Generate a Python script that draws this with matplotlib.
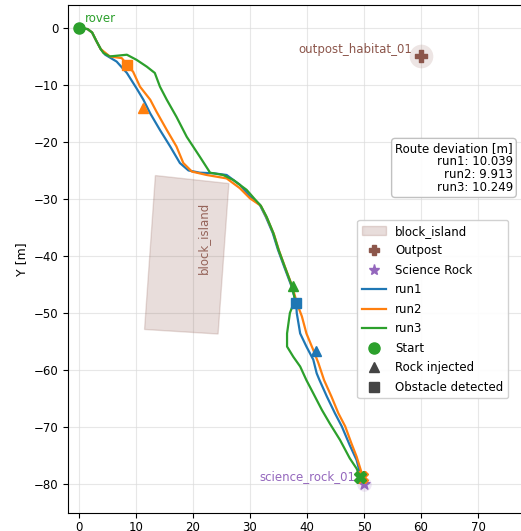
import matplotlib
matplotlib.use("Agg")
import matplotlib.pyplot as plt
from matplotlib.patches import Polygon, Patch
from matplotlib.lines import Line2D

# ---- data ----
run1_x = [0, 1.5, 2.3, 3.0, 3.8, 4.6, 6.6, 8.4, 10.1, 11.3, 12.5, 14.2, 16.0, 17.7, 19.2, 21.2, 23.6, 25.9, 28.2, 30.0,
          31.7, 32.8, 34.0, 34.9, 36.0, 37.2, 38.1, 38.2, 38.8, 39.9, 41.1, 41.7, 42.2, 43.5, 44.9, 46.1, 47.5, 48.7, 49.3, 49.5]
run1_y = [0, -0.2, -0.8, -2.2, -3.7, -4.7, -5.9, -7.9, -10.6, -12.6, -15.0, -17.9, -20.8, -23.7, -25.0, -25.4, -25.5, -25.8, -27.5, -29.6,
          -31.0, -33.2, -36.0, -38.9, -41.9, -45.1, -48.2, -50.0, -53.6, -55.9, -58.2, -60.6, -61.8, -64.7, -67.6, -69.9, -73.2, -75.8, -78.1, -78.7]

run2_x = [0, 1.5, 2.3, 3.0, 3.8, 5.4, 7.5, 8.5, 9.5, 10.7, 12.5, 13.6, 15.4, 17.1, 18.3, 19.8, 22.4, 25.9, 28.2, 30.0,
          31.9, 33.0, 34.2, 35.1, 36.2, 37.4, 38.3, 39.1, 39.9, 41.1, 42.0, 43.0, 44.3, 45.5, 46.7, 47.8, 48.7, 49.6, 49.6]
run2_y = [0, -0.2, -0.8, -2.2, -3.7, -5.0, -5.3, -6.5, -7.7, -10.3, -12.6, -14.7, -17.9, -20.8, -23.7, -25.2, -25.8, -26.4, -28.1, -29.9,
          -31.2, -33.4, -36.2, -39.1, -42.1, -45.3, -48.5, -50.6, -53.6, -56.5, -58.8, -61.8, -64.7, -67.6, -69.9, -72.9, -75.2, -78.1, -78.7]

run3_x = [0, 1.5, 2.3, 3.0, 3.8, 4.3, 5.4, 8.4, 10.1, 11.9, 13.3, 14.2, 15.4, 17.1, 18.9, 21.2, 23.0, 25.3, 27.1, 29.4,
          30.8, 31.9, 32.9, 34.1, 35.0, 36.1, 37.3, 37.9, 37.0, 36.5, 36.5, 37.6, 38.8, 39.9, 41.1, 42.6, 44.0, 45.8, 47.5, 48.7, 49.3]
run3_y = [0, -0.2, -0.8, -2.2, -3.7, -4.4, -5.0, -4.7, -5.6, -6.8, -7.9, -10.3, -12.6, -15.6, -19.1, -22.6, -25.4, -25.8, -26.7, -28.4,
          -30.0, -31.2, -33.1, -36.0, -38.9, -41.9, -45.1, -47.7, -50.0, -53.6, -55.9, -57.7, -59.4, -61.8, -64.1, -67.0, -69.4, -72.3, -75.5, -77.3, -78.7]

runs = ["run1", "run2", "run3"]
run_colors = ["#1f77b4", "#ff7f0e", "#2ca02c"]
rock_injected = {"run1": (41.5, -56.6), "run2": (11.3, -14.1), "run3": (37.5, -45.3)}
obstacle_detected = {"run1": (38.1, -48.2), "run2": (8.5, -6.5)}
deviation = {"run1": 10.039, "run2": 9.913, "run3": 10.249}

start = (0, 0)
outpost = (60, -5)
science_rock = (50, -80)
block_x = [13.4, 26.3, 24.4, 11.5]
block_y = [-25.9, -27.3, -53.7, -52.9]
block_label_pos = (21.8, -36.8)

# ---- figure ----
W, H = 521, 531
fig = plt.figure(figsize=(W / 100, H / 100), dpi=100)
ppu = 5.7
x0, x1 = -1.93, 80.0
y0, y1 = -85.1, 4.0
left_px, bottom_px = 68, 18
ax = fig.add_axes([left_px / W, bottom_px / H, (x1 - x0) * ppu / W, (y1 - y0) * ppu / H])
ax.set_xlim(x0, x1)
ax.set_ylim(y0, y1)
ax.grid(True, color="#dddddd", linewidth=0.8, alpha=0.7)
ax.set_axisbelow(True)
fs = 8.5

brown = "#8c564b"
purple = "#9467bd"

ax.add_patch(Polygon(list(zip(block_x, block_y)), closed=True, facecolor=brown, alpha=0.2,
                     edgecolor=brown, linewidth=1.0, zorder=1))
ax.text(block_label_pos[0], block_label_pos[1], "block_island", rotation=90, color=brown,
        fontsize=fs, ha="center", va="center", alpha=0.9)

# landmarks
ax.scatter([outpost[0]], [outpost[1]], s=290, color=brown, alpha=0.15, linewidths=0, zorder=2)
ax.scatter([outpost[0]], [outpost[1]], s=70, marker="P", color=brown, zorder=5)
ax.annotate("outpost_habitat_01", outpost, xytext=(-6, 5), textcoords="offset points",
            ha="right", va="center", color=brown, fontsize=fs)
ax.scatter([science_rock[0]], [science_rock[1]], s=110, color=purple, alpha=0.15, linewidths=0, zorder=2)
ax.scatter([science_rock[0]], [science_rock[1]], s=70, marker="*", color=purple, zorder=5)
ax.annotate("science_rock_01", science_rock, xytext=(-6, 5), textcoords="offset points",
            ha="right", va="center", color=purple, fontsize=fs)

# runs
paths = {"run1": (run1_x, run1_y), "run2": (run2_x, run2_y), "run3": (run3_x, run3_y)}
for r, c in zip(runs, run_colors):
    xs, ys = paths[r]
    ax.plot(xs, ys, color=c, linewidth=1.6, zorder=3)
    ax.plot([xs[-1]], [ys[-1]], marker="X", color=c, markersize=8, linestyle="none", zorder=6)
    if r in rock_injected:
        ax.plot(*rock_injected[r], marker="^", color=c, markersize=7.5, linestyle="none", zorder=6)
    if r in obstacle_detected:
        ax.plot(*obstacle_detected[r], marker="s", color=c, markersize=7.5, linestyle="none", zorder=6)

ax.plot([start[0]], [start[1]], marker="o", color=run_colors[2], markersize=8, linestyle="none", zorder=7)
ax.annotate("rover", start, xytext=(4, 7), textcoords="offset points", ha="left", va="center",
            color=run_colors[2], fontsize=fs)

ax.set_ylabel("Y [m]", fontsize=9)
ax.tick_params(labelsize=fs)
ax.tick_params(axis="x", pad=2.3)

dev_text = "Route deviation [m]\n" + "\n".join(f"{r}: {deviation[r]:.3f}" for r in runs)
ax.text(76.1, -20.0, dev_text, ha="right", va="top", fontsize=fs, linespacing=1.0,
        bbox=dict(boxstyle="round,pad=0.3", facecolor="white", edgecolor="#bbbbbb", alpha=0.9), zorder=8)

handles = [
    Patch(facecolor=brown, alpha=0.2, edgecolor=brown, label="block_island"),
    Line2D([], [], marker="P", color=brown, linestyle="none", markersize=7, label="Outpost"),
    Line2D([], [], marker="*", color=purple, linestyle="none", markersize=8, label="Science Rock"),
]
for r, c in zip(runs, run_colors):
    handles.append(Line2D([], [], color=c, linewidth=1.6, label=r))
handles += [
    Line2D([], [], marker="o", color=run_colors[2], linestyle="none", markersize=8, label="Start"),
    Line2D([], [], marker="^", color="#444444", linestyle="none", markersize=7, label="Rock injected"),
    Line2D([], [], marker="s", color="#444444", linestyle="none", markersize=7, label="Obstacle detected"),
]
fig.legend(handles=handles, loc="upper right", bbox_to_anchor=(508 / W, 1 - 220 / H),
           bbox_transform=fig.transFigure, borderaxespad=0, fontsize=fs, framealpha=0.9,
           labelspacing=0.55)

fig.savefig("out.png", dpi=100)
